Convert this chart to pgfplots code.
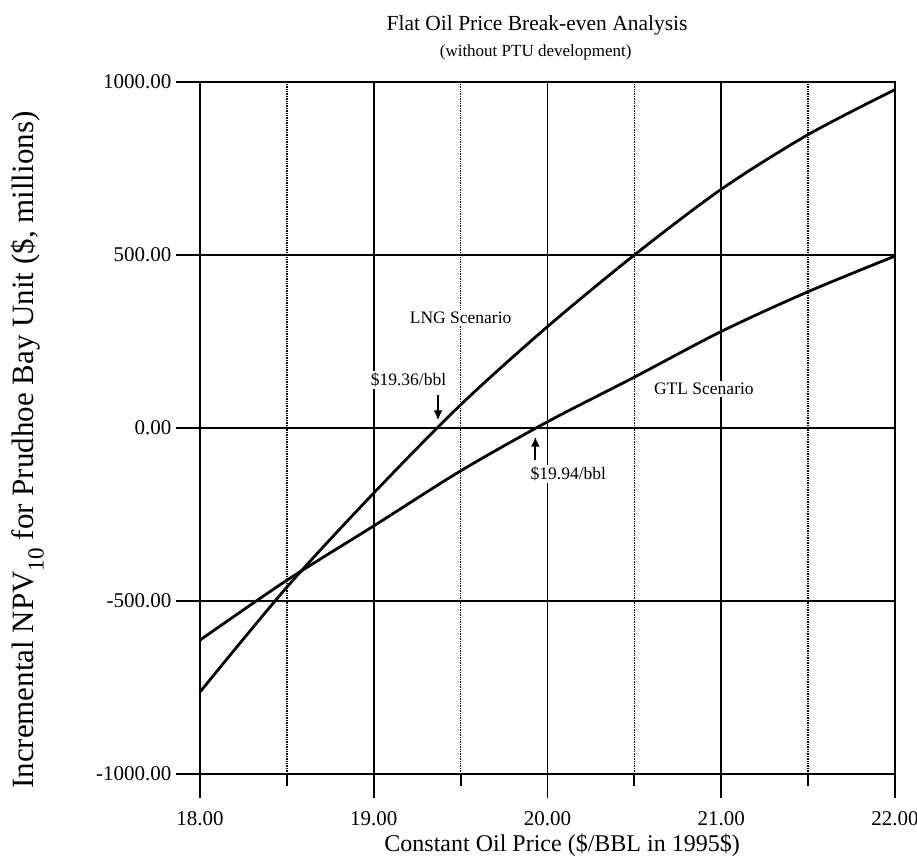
\documentclass[border=0pt]{standalone}
\usepackage{fontspec}
\setmainfont{Liberation Serif}
\usepackage{pgfplots}
\pgfplotsset{compat=1.18}
\usetikzlibrary{arrows.meta}
\begin{document}
\begin{tikzpicture}
\useasboundingbox (-200pt,-89pt) rectangle (717pt,774pt);
\begin{axis}[
  at={(0pt,0pt)}, anchor=south west,
  width=695pt, height=692pt, scale only axis,
  xmin=18, xmax=22, ymin=-1000, ymax=1000,
  xtick={18,19,20,21,22},
  minor xtick={18.5,19.5,20.5,21.5},
  ytick={-1000,-500,0,500,1000},
  tick pos=left,
  tick align=outside,
  major tick length=24pt,
  minor tick length=12pt,
  every tick/.style={line width=1.8pt, black},
  xmajorgrids, xminorgrids, ymajorgrids,
  major grid style={line width=1.8pt, black},
  minor grid style={line width=1.4pt, black, densely dotted},
  axis line style={line width=1.8pt},
  ticklabel style={font=\fontsize{21}{21}\selectfont},
  xticklabel style={yshift=-10pt},
  yticklabel style={xshift=-1pt},
  /pgf/number format/.cd, fixed, fixed zerofill, precision=2, 1000 sep={}, assume math mode=true,
  /pgfplots/.cd,
  clip=false,
]
\addplot[smooth, line width=2.8pt, black] coordinates {
  (18,-763) (18.5,-460) (19,-188) (19.5,67) (20,293) (20.5,500) (21,690) (21.5,848) (22,978)
};
\addplot[smooth, line width=2.8pt, black] coordinates {
  (18,-613) (18.5,-440) (19,-283) (19.5,-124) (20,18) (20.5,147) (21,279) (21.5,394) (22,497)
};
\node[fill=white, inner sep=2pt, font=\fontsize{17.5}{17.5}\selectfont] at (axis cs:19.50,319) {LNG Scenario};
\node[fill=white, inner sep=2pt, font=\fontsize{17.5}{17.5}\selectfont] at (axis cs:19.20,138) {\$19.36/bbl};
\draw[line width=2pt, -{Latex[length=10pt,width=9pt]}] (axis cs:19.37,95) -- (axis cs:19.37,22);
\node[fill=white, inner sep=2pt, font=\fontsize{17.5}{17.5}\selectfont] at (axis cs:20.90,112) {GTL Scenario};
\node[fill=white, inner sep=2pt, font=\fontsize{17.5}{17.5}\selectfont] at (axis cs:20.12,-132) {\$19.94/bbl};
\draw[line width=2pt, -{Latex[length=10pt,width=9pt]}] (axis cs:19.93,-92) -- (axis cs:19.93,-25);
\node[font=\fontsize{21.5}{21.5}\selectfont] at (axis description cs:0.485,1.082) {Flat Oil Price Break-even Analysis};
\node[font=\fontsize{17}{17}\selectfont] at (axis description cs:0.483,1.043) {(without PTU development)};
\node[font=\fontsize{24}{24}\selectfont] at (axis description cs:0.521,-0.103) {Constant Oil Price (\$/BBL in 1995\$)};
\node[rotate=90, font=\fontsize{31}{31}\selectfont] at (axis description cs:-0.248,0.468) {Incremental NPV\raisebox{-10pt}{\fontsize{23}{23}\selectfont 10} for Prudhoe Bay Unit (\$, millions)};
\end{axis}
\end{tikzpicture}
\end{document}
